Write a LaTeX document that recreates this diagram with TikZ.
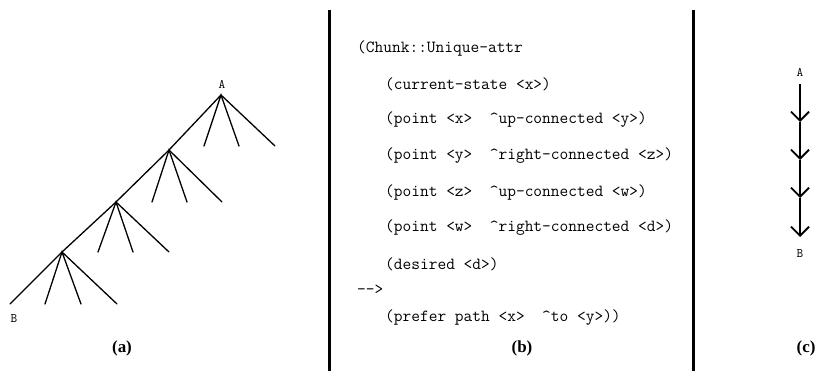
\documentclass[tikz,border=0pt]{standalone}
\usepackage{fontspec}
\setmainfont{Liberation Serif}
\usetikzlibrary{arrows.meta}
\begin{document}
\begin{tikzpicture}[x=1bp,y=-1bp,
  branch/.style={line width=1.3bp,line cap=round},
  divider/.style={line width=3bp},
  code/.style={anchor=west,inner sep=0pt,font=\fontsize{17}{17}\selectfont\ttfamily},
  caption/.style={inner sep=0pt,font=\fontsize{17}{17}\selectfont\bfseries},
  endlabel/.style={inner sep=0pt,font=\fontsize{13}{13}\selectfont\ttfamily},
  chainarrow/.style={line width=1.4bp,-{Straight Barb[length=9bp,width=18bp,line width=1.8bp]}}]
\fill[white] (0,0) rectangle (828,371);
\useasboundingbox (0,0) rectangle (828,371);

% (a) search tree: a spine from A down to B with three side branches per level
\coordinate (n1) at (221,95);
\coordinate (n2) at (169,150);
\coordinate (n3) at (116,202);
\coordinate (n4) at (62,252);
\coordinate (nb) at (10,304);
\node[endlabel] (la) at (222,84) {A};
\node[endlabel] (lb) at (14,319) {B};
\draw[branch] (n1) -- (n2) -- (n3) -- (n4) -- (nb);
\foreach \p/\y/\a/\b/\c in {n1/146/204/239/275, n2/202/152/187/222, n3/252/98/133/169, n4/304/45/81/117}{
  \coordinate (\p-l) at (\a,\y);
  \coordinate (\p-m) at (\b,\y);
  \coordinate (\p-r) at (\c,\y);
  \draw[branch] (\p-l) -- (\p) -- (\p-m);
  \draw[branch] (\p) -- (\p-r);
}
\node[caption] (capa) at (122,348) {(a)};

% separators
\coordinate (d1t) at (329,10);
\coordinate (d1b) at (329,371);
\coordinate (d2t) at (693,10);
\coordinate (d2b) at (693,371);
\draw[divider] (d1t) -- (d1b);
\draw[divider] (d2t) -- (d2b);

% (b) the chunk as a production rule
\node[code] (r0) at (357,48)  {(Chunk::Unique-attr};
\node[code] (r1) at (385,84)  {(current-state <x>)};
\node[code] (r2) at (385,120) {(point <x>\ \ \textasciicircum up-connected <y>)};
\node[code] (r3) at (385,156) {(point <y>\ \ \textasciicircum right-connected <z>)};
\node[code] (r4) at (385,192) {(point <z>\ \ \textasciicircum up-connected <w>)};
\node[code] (r5) at (385,228) {(point <w>\ \ \textasciicircum right-connected <d>)};
\node[code] (r6) at (385,264) {(desired <d>)};
\node[code] (r7) at (357,290) {-{}->};
\node[code] (r8) at (385,318) {(prefer path <x>\ \ \textasciicircum to <y>))};
\node[caption] (capb) at (522,348) {(b)};

% (c) the compiled path from A to B
\node[endlabel] (ca) at (800,72) {A};
\node[endlabel] (cb) at (800,254) {B};
\coordinate (c0) at (800,84);
\coordinate (c1) at (800,122);
\coordinate (c2) at (800,160);
\coordinate (c3) at (800,198);
\coordinate (c4) at (800,237);
\draw[chainarrow] (c0) -- (c1);
\draw[chainarrow] (c1) -- (c2);
\draw[chainarrow] (c2) -- (c3);
\draw[chainarrow] (c3) -- (c4);
\node[caption] (capc) at (806,348) {(c)};
\end{tikzpicture}
\end{document}
